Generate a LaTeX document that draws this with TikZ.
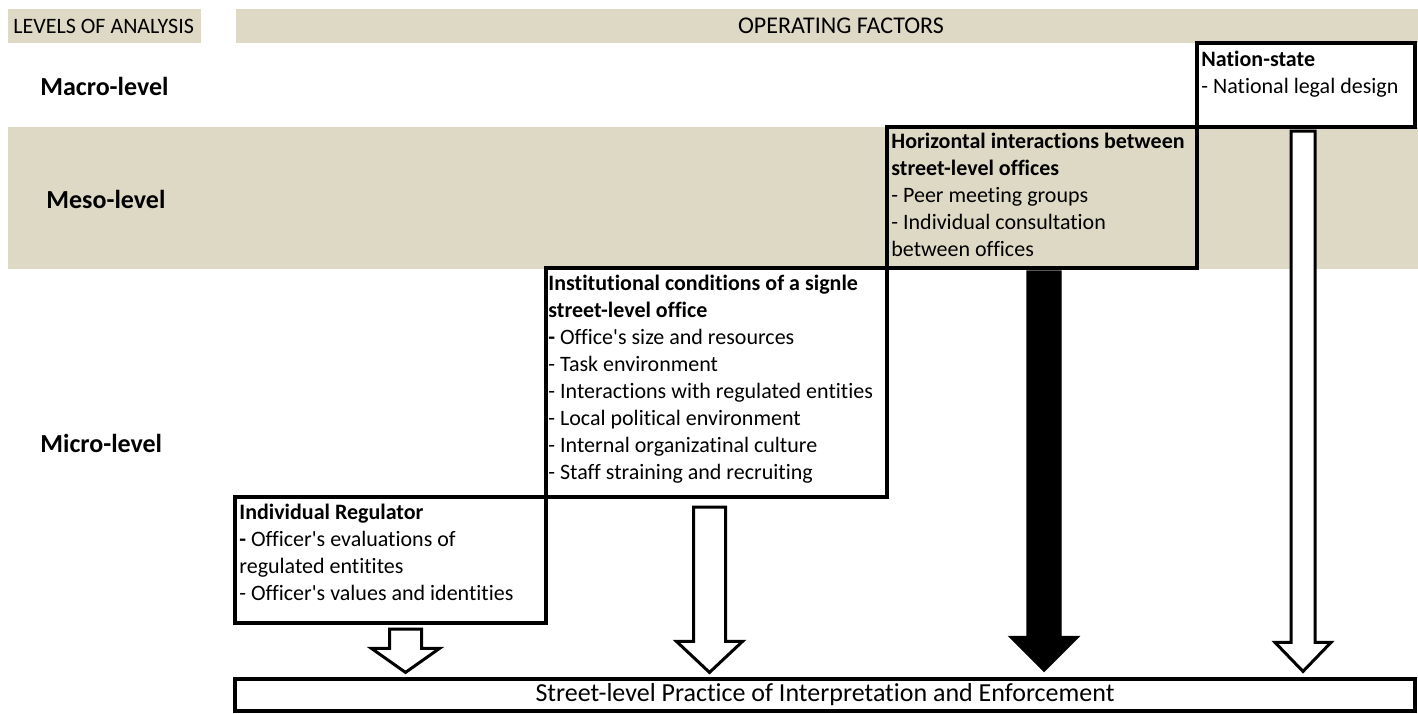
\documentclass[tikz,border=0pt]{standalone}
\usepackage{fontspec}
\setmainfont{Carlito}[Ligatures={TeXOff,NoCommon}]
\usetikzlibrary{calc,fit}

\definecolor{bandtan}{RGB}{221,217,196}

\tikzset{
  band/.style={fill=bandtan, draw=none, inner sep=0pt},
  framebox/.style={draw=black, line width=2pt, inner sep=0pt},
  boxtext/.style={anchor=north west, inner sep=0pt, align=left,
    font=\fontsize{11}{13.5}\selectfont},
  headtext/.style={inner sep=0pt, font=\fontsize{11}{13.5}\selectfont},
  levellabel/.style={anchor=west, inner sep=0pt,
    font=\fontsize{13}{15}\selectfont\bfseries},
  hollowarrow/.style={draw=black, fill=white, line width=1.5pt, line join=miter},
  blackarrow/.style={draw=black, fill=black, line width=0.6pt, line join=miter}
}

% block arrow: [style]{top}{tip}{half shaft}{half head}{head length}
\newcommand\blockarrow[6][]{%
  \draw[#1] ($(#2)+(-#4,0)$) -- ($(#2)+(#4,0)$) -- ($(#3)+(#4,-#6)$)
    -- ($(#3)+(#5,-#6)$) -- (#3) -- ($(#3)+(-#5,-#6)$)
    -- ($(#3)+(-#4,-#6)$) -- cycle;}

\begin{document}
\begin{tikzpicture}[x=0.5pt,y=-0.5pt]
\useasboundingbox (0,0) rectangle (1418,713);

% header row and meso band
\node[band, fit={(8,9) (201,43)}] (levelhead) {};
\node[headtext, anchor=west] (leveltxt) at (13,26) {LEVELS OF ANALYSIS};
\node[band, fit={(236,9) (1418,43)}] (factorhead) {};
\node[headtext, font=\fontsize{12}{14}\selectfont] (factortxt) at (841,26) {OPERATING FACTORS};
\node[band, fit={(8,127) (1418,269)}] (mesoband) {};

\node[levellabel] (macro) at (40,86) {Macro-level};
\node[levellabel] (meso) at (46,199) {Meso-level};
\node[levellabel] (micro) at (40,443) {Micro-level};

% factor boxes
\node[framebox, fill=white, fit={(1197,43) (1415,127)}] (nation) {};
\node[framebox, fit={(887,127) (1197,268)}] (horiz) {};
\node[framebox, fit={(546,268) (887,497)}] (inst) {};
\node[framebox, fit={(235,497) (546,623)}] (indiv) {};

\node[boxtext] (nationtxt) at ($(nation.north west)+(6,10)$)
  {\textbf{Nation-state}\\- National legal design};
\node[boxtext] (horiztxt) at ($(horiz.north west)+(6,8)$)
  {\textbf{Horizontal interactions between}\\\textbf{street-level offices}\\
   - Peer meeting groups\\- Individual consultation\\between offices};
\node[boxtext] (insttxt) at ($(inst.north west)+(4,9)$)
  {\textbf{Institutional conditions of a signle}\\\textbf{street-level office}\\
   \textbf{-} Office's size and resources\\- Task environment\\
   - Interactions with regulated entities\\- Local political environment\\
   - Internal organizatinal culture\\- Staff straining and recruiting};
\node[boxtext] (indivtxt) at ($(indiv.north west)+(6,9)$)
  {\textbf{Individual Regulator}\\\textbf{-} Officer's evaluations of\\
   regulated entitites\\- Officer's values and identities};

% outcome
\node[framebox, line width=1.6pt, fit={(235,679) (1415,711)}] (street) {};
\node[headtext, font=\fontsize{13}{15}\selectfont] (streettxt) at (street.center)
  {Street-level Practice of Interpretation and Enforcement};

% arrows down to the outcome
\coordinate (a1top) at ($(indiv.south)+(15,4)$);
\coordinate (a1tip) at ($(a1top |- street.north)+(0,-5)$);
\coordinate (a2top) at ($(inst.south)+(-7,8)$);
\coordinate (a2tip) at ($(a2top |- street.north)+(0,-5)$);
\coordinate (a3top) at ($(horiz.south)+(2,1)$);
\coordinate (a3tip) at ($(a3top |- street.north)+(0,-6)$);
\coordinate (a4top) at ($(nation.south)+(-3,2)$);
\coordinate (a4tip) at ($(a4top |- street.north)+(0,-6)$);

\blockarrow[hollowarrow]{a1top}{a1tip}{16}{34}{24}
\blockarrow[hollowarrow]{a2top}{a2tip}{16}{33}{31}
\blockarrow[blackarrow]{a3top}{a3tip}{17}{35}{35}
\blockarrow[hollowarrow]{a4top}{a4tip}{12}{28}{29}

\end{tikzpicture}
\end{document}
